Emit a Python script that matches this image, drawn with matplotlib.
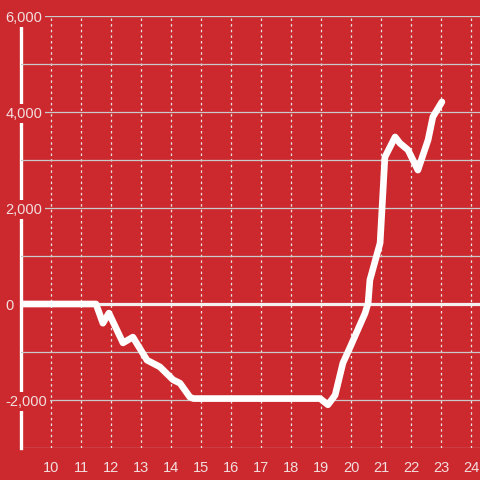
import matplotlib
matplotlib.use("Agg")
import matplotlib.pyplot as plt
from matplotlib.ticker import FuncFormatter, MultipleLocator

plt.rcParams['font.family'] = ['Liberation Sans', 'DejaVu Sans']

# Data
hours = [9.0, 11.5, 11.73, 11.93, 12.4, 12.73, 13.2, 13.63, 14.07, 14.3, 14.63, 14.75,
         18.97, 19.23, 19.47, 19.73, 19.97, 20.47, 20.57, 20.63, 20.97, 21.13, 21.47,
         21.63, 21.9, 22.23, 22.57, 22.73, 23.03]
values = [0, 0, -400, -190, -810, -690, -1170, -1310, -1580, -1650, -1940, -1970,
          -1970, -2100, -1900, -1230, -900, -190, 20, 500, 1270, 3060, 3480,
          3350, 3210, 2790, 3420, 3900, 4210]
x_ticks = list(range(10, 25))
y_ticks = [-2000, 0, 2000, 4000, 6000]

BG = '#cc292e'
TXT = '#f2dede'

fig = plt.figure(figsize=(4.8, 4.8), dpi=100, facecolor=BG)
ax = fig.add_axes([21/480, 32/480, 1 - 21/480, (448 - 16)/480])
ax.set_facecolor(BG)

ax.set_xlim(9, 24.3)
ax.set_ylim(-3000, 6000)

ax.set_xticks(x_ticks)
ax.set_yticks(y_ticks)
ax.yaxis.set_minor_locator(MultipleLocator(1000))
ax.yaxis.set_major_formatter(FuncFormatter(lambda v, p: f"{v:,.0f}"))

# grids
ax.grid(axis='y', which='both', color='#c9c9c9', linewidth=0.9, zorder=1)
ax.grid(axis='x', which='major', color='#e6e6e6', linewidth=0.9,
        linestyle=(0, (2, 2.5)), zorder=1)

for s in ['top', 'right', 'bottom']:
    ax.spines[s].set_visible(False)
ax.spines['left'].set_color('white')
ax.spines['left'].set_linewidth(2.4)
ax.spines['left'].set_zorder(1.2)

ax.tick_params(axis='x', length=0, pad=9, labelsize=10.5, labelcolor=TXT)
ax.tick_params(axis='y', which='both', length=0, pad=11, labelsize=10.5, labelcolor=TXT)
for lab in ax.get_yticklabels():
    lab.set_horizontalalignment('left')
    lab.set_bbox(dict(facecolor=BG, edgecolor='none', pad=1.5))

# zero line
ax.axhline(0, color='#f5f0f0', linewidth=2.3, zorder=2)

# data line
ax.plot(hours, values, color='white', linewidth=4.8, solid_joinstyle='round',
        solid_capstyle='round', zorder=3)

fig.savefig('out.png', dpi=100, facecolor=BG)
